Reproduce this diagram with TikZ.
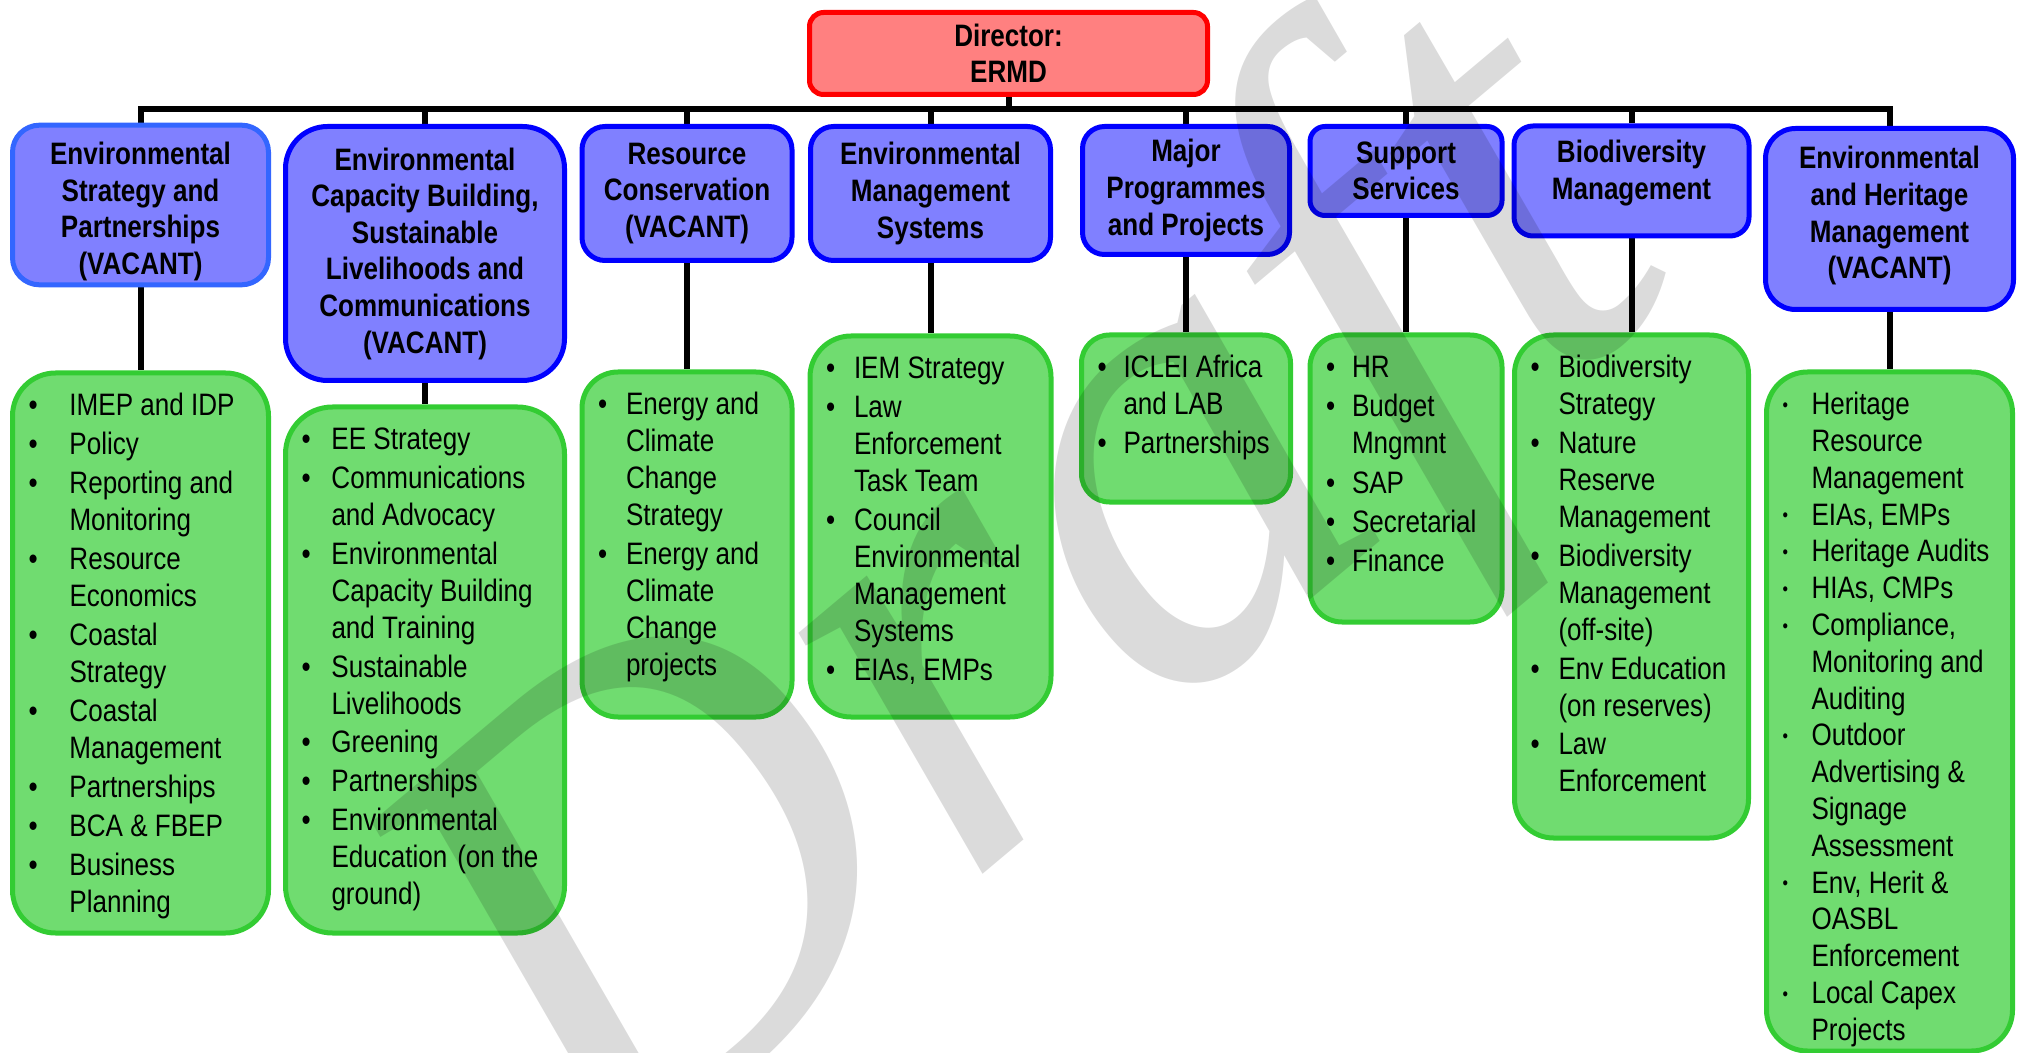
\documentclass[tikz,border=0pt]{standalone}
\usepackage{fontspec}
\setmainfont{Liberation Sans}[FakeStretch=0.84]
\newfontfamily\draftfont{Liberation Serif}
\usepackage{graphicx}
\usepackage{array}
\usepackage{xcolor}
\usetikzlibrary{backgrounds}

\definecolor{dirfill}{HTML}{FF8080}
\definecolor{dirline}{HTML}{FF0000}
\definecolor{unitfill}{HTML}{8080FF}
\definecolor{unitline}{HTML}{0000FF}
\definecolor{unitlight}{HTML}{3366FF}
\definecolor{taskfill}{HTML}{70DC70}
\definecolor{taskline}{HTML}{33CC33}

\newcommand{\smallbullet}{\raisebox{1.6pt}{\scalebox{0.6}{\textbullet}}}

\begin{document}
\begin{tikzpicture}[x=0.5pt, y=-0.5pt,
  boss/.style={draw=dirline, fill=dirfill, line width=2.5pt, rounded corners=7pt, align=center,
    font=\bfseries\fontsize{15.5}{18}\selectfont},
  unit/.style={draw=unitline, fill=unitfill, line width=2.5pt, align=center, inner sep=2pt,
    font=\bfseries\fontsize{15.5}{18.3}\selectfont},
  duties/.style={draw=taskline, fill=taskfill, line width=2.5pt, anchor=north,
    inner xsep=8pt, inner ysep=8.5pt, text height=12.9pt,
    font=\fontsize{15.5}{18.5}\selectfont},
  link/.style={line width=3pt},
  watermark/.style={text=black, text opacity=0.14, inner sep=0pt,
    font=\draftfont\itshape\fontsize{330}{330}\selectfont}]
\useasboundingbox (0,0) rectangle (2024,1053);
\coordinate (bus) at (0,109);

% director
\node (dir) at (1008.5,53.5) [boss, minimum width=199pt, minimum height=41pt] {Director:\\ERMD};

% branches
\node (u1) at (140.5,205) [unit, draw=unitlight, minimum width=128pt, minimum height=78.5pt, rounded corners=13.5pt] {\mbox{}\\[-0.6pt]Environmental\\Strategy and\\Partnerships\\(VACANT)};
\node (u2) at (425,253.5) [unit, minimum width=139.5pt, minimum height=127pt, rounded corners=21pt] {Environmental\\Capacity Building,\\Sustainable\\Livelihoods and\\Communications\\(VACANT)};
\node (u3) at (687,193.5) [unit, minimum width=105pt, minimum height=67pt, rounded corners=11.5pt] {Resource\\Conservation\\(VACANT)};
\node (u4) at (930.5,193.5) [unit, minimum width=120pt, minimum height=67pt, rounded corners=11.5pt] {Environmental\\Management\\Systems};
\node (u5) at (1186,190.5) [unit, minimum width=103.5pt, minimum height=64pt, rounded corners=11pt] {Major\\Programmes\\and Projects};
\node (u6) at (1406,171) [unit, minimum width=96pt, minimum height=44.5pt, rounded corners=7.5pt] {Support\\Services};
\node (u7) at (1631.5,181) [unit, minimum width=117.5pt, minimum height=55pt, rounded corners=9.5pt] {Biodiversity\\Management\\[-7pt]\mbox{}};
\node (u8) at (1889.5,219) [unit, minimum width=124pt, minimum height=90.5pt, rounded corners=15pt] {Environmental\\and Heritage\\Management\\(VACANT)\\[-11.8pt]\mbox{}};

% duties
\node (g1) at (140.5,370.5) [duties, text depth=250.1pt, rounded corners=21.5pt] {%
\begin{tabular}[t]{@{}p{20.5pt}@{}p{91.5pt}@{}}
\textbullet & IMEP and IDP\\[1pt]
\textbullet & Policy\\[1pt]
\textbullet & Reporting and\\
 & Monitoring\\[1pt]
\textbullet & Resource\\
 & Economics\\[1pt]
\textbullet & Coastal\\
 & Strategy\\[1pt]
\textbullet & Coastal\\
 & Management\\[1pt]
\textbullet & Partnerships\\[1pt]
\textbullet & BCA \& FBEP\\[1pt]
\textbullet & Business\\
 & Planning
\end{tabular}};
\node (g2) at (425,404.5) [duties, text depth=233.1pt, rounded corners=23.5pt] {%
\begin{tabular}[t]{@{}p{15pt}@{}p{108.5pt}@{}}
\textbullet & EE Strategy\\[0.9pt]
\textbullet & Communications\\
 & and Advocacy\\[0.9pt]
\textbullet & Environmental\\
 & Capacity Building\\
 & and Training\\[0.9pt]
\textbullet & Sustainable\\
 & Livelihoods\\[0.9pt]
\textbullet & Greening\\[0.9pt]
\textbullet & Partnerships\\[0.9pt]
\textbullet & Environmental\\
 & Education\hspace{5pt}(on the\\
 & ground)
\end{tabular}};
\node (g3) at (687,369.5) [duties, text depth=142.6pt, rounded corners=18pt] {%
\begin{tabular}[t]{@{}p{14pt}@{}p{75pt}@{}}
\textbullet & Energy and\\
 & Climate\\
 & Change\\
 & Strategy\\[0.9pt]
\textbullet & Energy and\\
 & Climate\\
 & Change\\
 & projects
\end{tabular}};
\node (g4) at (930.5,333.5) [duties, text depth=160.6pt, rounded corners=20.5pt] {%
\begin{tabular}[t]{@{}p{14pt}@{}p{90.5pt}@{}}
\textbullet & IEM Strategy\\[0.9pt]
\textbullet & Law\\
 & Enforcement\\
 & Task Team\\[0.9pt]
\textbullet & Council\\
 & Environmental\\
 & Management\\
 & Systems\\[0.9pt]
\textbullet & EIAs, EMPs
\end{tabular}};
\node (g5) at (1186,332.5) [duties, text depth=53.6pt, rounded corners=14pt] {%
\begin{tabular}[t]{@{}p{13pt}@{}p{75.5pt}@{}}
\textbullet & ICLEI Africa\\
 & and LAB\\[0.9pt]
\textbullet & Partnerships
\end{tabular}};
\node (g6) at (1406,332.5) [duties, text depth=113.6pt, rounded corners=16pt] {%
\begin{tabular}[t]{@{}p{13pt}@{}p{67pt}@{}}
\textbullet & HR\\[1.1pt]
\textbullet & Budget\\
 & Mngmnt\\[1.1pt]
\textbullet & SAP\\[1.1pt]
\textbullet & Secretarial\\[1.1pt]
\textbullet & Finance
\end{tabular}};
\node (g7) at (1631.5,332.5) [duties, text depth=221.6pt, rounded corners=19.5pt] {%
\begin{tabular}[t]{@{}p{14pt}@{}p{87pt}@{}}
\textbullet & Biodiversity\\
 & Strategy\\[0.9pt]
\textbullet & Nature\\
 & Reserve\\
 & Management\\[0.9pt]
\textbullet & Biodiversity\\
 & Management\\
 & (off-site)\\[0.9pt]
\textbullet & Env Education\\
 & (on reserves)\\[0.9pt]
\textbullet & Law\\
 & Enforcement
\end{tabular}};
\node (g8) at (1889.5,369.5) [duties, text depth=309.6pt, rounded corners=20.5pt, font=\fontsize{15.5}{18.4}\selectfont] {%
\begin{tabular}[t]{@{}p{14.5pt}@{}p{92.5pt}@{}}
\smallbullet & Heritage\\
 & Resource\\
 & Management\\
\smallbullet & EIAs, EMPs\\
\smallbullet & Heritage Audits\\
\smallbullet & HIAs, CMPs\\
\smallbullet & Compliance,\\
 & Monitoring and\\
 & Auditing\\
\smallbullet & Outdoor\\
 & Advertising \&\\
 & Signage\\
 & Assessment\\
\smallbullet & Env, Herit \&\\
 & OASBL\\
 & Enforcement\\
\smallbullet & Local Capex\\
 & Projects
\end{tabular}};

\begin{scope}[on background layer]
\draw[link] (dir.south) |- (u1.north |- bus) -- (u1.north);
\draw[link] (dir.south) |- (u2.north |- bus) -- (u2.north);
\draw[link] (dir.south) |- (u3.north |- bus) -- (u3.north);
\draw[link] (dir.south) |- (u4.north |- bus) -- (u4.north);
\draw[link] (dir.south) |- (u5.north |- bus) -- (u5.north);
\draw[link] (dir.south) |- (u6.north |- bus) -- (u6.north);
\draw[link] (dir.south) |- (u7.north |- bus) -- (u7.north);
\draw[link] (dir.south) |- (u8.north |- bus) -- (u8.north);
\draw[link] (u1.south) -- (g1.north);
\draw[link] (u2.south) -- (g2.north);
\draw[link] (u3.south) -- (g3.north);
\draw[link] (u4.south) -- (g4.north);
\draw[link] (u5.south) -- (g5.north);
\draw[link] (u6.south) -- (g6.north);
\draw[link] (u7.south) -- (g7.north);
\draw[link] (u8.south) -- (g8.north);
\end{scope}

% watermark
\node (draft) at (597,1198) [watermark, rotate=40, anchor=base west] {Draft};
\end{tikzpicture}
\end{document}
